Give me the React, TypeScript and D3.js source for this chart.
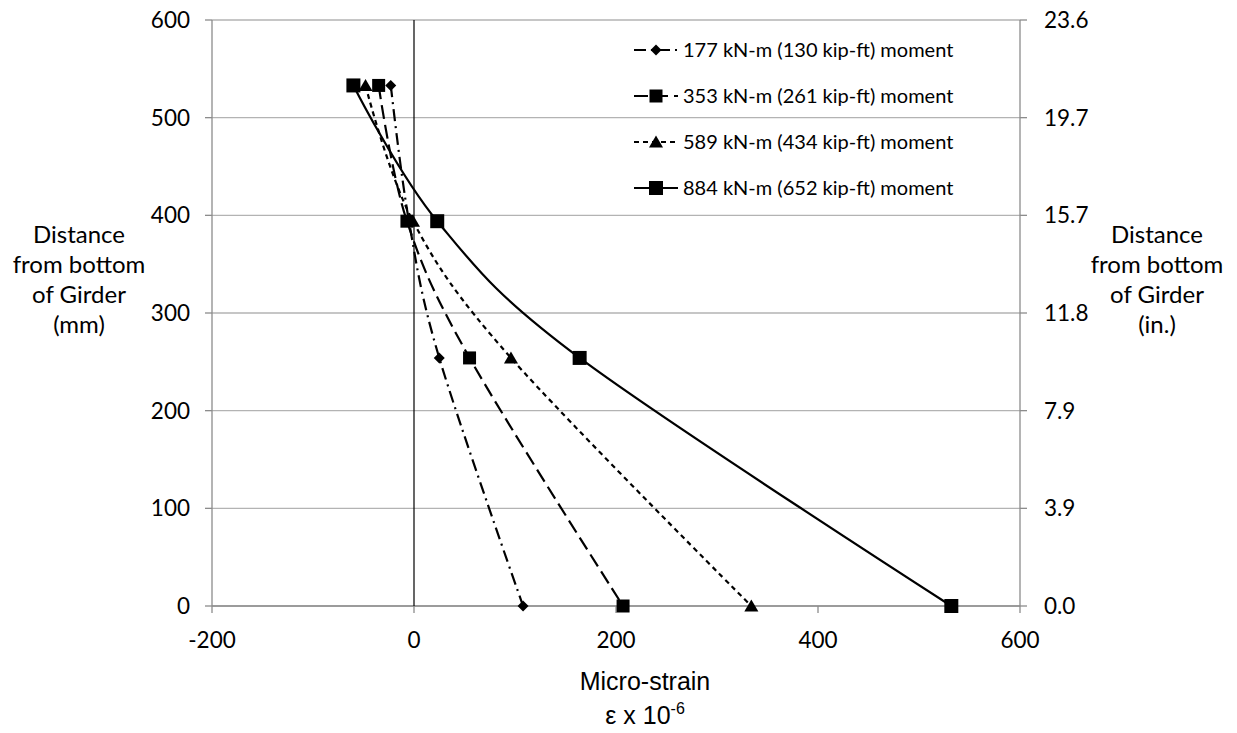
import React from "react";
import * as d3 from "d3";

// Gauge heights above the girder soffit (mm)
const depthsMm = [533, 394, 254, 0];

// Measured strains (micro-strain) at each gauge height, per load step
const strain177 = [-23, -5, 25, 108];
const strain353 = [-35, -7, 55, 207];
const strain589 = [-48, -1, 96, 334];
const strain884 = [-60, 23, 164, 532];

const seriesLabels = [
  "177 kN-m (130 kip-ft) moment",
  "353 kN-m (261 kip-ft) moment",
  "589 kN-m (434 kip-ft) moment",
  "884 kN-m (652 kip-ft) moment",
];

const xTicks = [-200, 0, 200, 400, 600];
const yTicksMm = [0, 100, 200, 300, 400, 500, 600];

type Marker = "diamond" | "square" | "triangle";

const series: { label: string; values: number[]; dash: string; marker: Marker; msize: number }[] = [
  { label: seriesLabels[0], values: strain177, dash: "12 5 2 5", marker: "diamond", msize: 5.5 },
  { label: seriesLabels[1], values: strain353, dash: "14 6", marker: "square", msize: 6.5 },
  { label: seriesLabels[2], values: strain589, dash: "5 4", marker: "triangle", msize: 6.5 },
  { label: seriesLabels[3], values: strain884, dash: "none", marker: "square", msize: 7 },
];

const W = 1237;
const H = 733;
const M = { left: 212, right: 1020, top: 20, bottom: 606 };

const FONT = "Lato, 'Noto Sans', sans-serif";
const ARIAL = "'Liberation Sans', Arial, sans-serif";

function markerPath(kind: Marker, r: number): string {
  if (kind === "diamond") return `M0,${-r}L${r},0L0,${r}L${-r},0Z`;
  if (kind === "triangle") return `M0,${-r}L${r * 1.08},${r * 0.85}L${-r * 1.08},${r * 0.85}Z`;
  return `M${-r},${-r}H${r}V${r}H${-r}Z`;
}

export default function App() {
  const x = d3.scaleLinear().domain([-200, 600]).range([M.left, M.right]);
  const y = d3.scaleLinear().domain([0, 600]).range([M.bottom, M.top]);
  const yIn = d3.scaleLinear().domain([0, 600 / 25.4]).range([M.bottom, M.top]);
  const fmtIn = d3.format(".1f");

  const line = d3
    .line<[number, number]>()
    .x((d) => x(d[0]))
    .y((d) => y(d[1]))
    .curve(d3.curveCardinal.tension(0));

  const legendY = [50, 96, 142, 188];
  const axisGrey = "#8c8c8c";

  return (
    <div style={{ position: "absolute", left: 0, top: 0 }}>
      <svg width={W} height={H} style={{ display: "block", background: "#fff" }}>
        {/* horizontal gridlines */}
        {yTicksMm.map((t) => (
          <line key={"g" + t} x1={M.left} x2={M.right} y1={y(t)} y2={y(t)} stroke="#b3b3b3" strokeWidth={1.3} />
        ))}
        {/* left axis */}
        <line x1={M.left} x2={M.left} y1={M.top} y2={M.bottom} stroke={axisGrey} strokeWidth={1.3} />
        {yTicksMm.map((t) => (
          <g key={"yl" + t}>
            <line x1={M.left - 7} x2={M.left} y1={y(t)} y2={y(t)} stroke={axisGrey} strokeWidth={1.3} />
            <text x={M.left - 22} y={y(t)} dy="0.36em" textAnchor="end" fontFamily={FONT} fontSize={22.5} fill="#000">
              {t}
            </text>
          </g>
        ))}
        {/* right axis in inches */}
        <line x1={M.right} x2={M.right} y1={M.top} y2={M.bottom} stroke={axisGrey} strokeWidth={1.3} />
        {yTicksMm.map((t) => {
          const v = t / 25.4;
          return (
            <g key={"yr" + t}>
              <line x1={M.right} x2={M.right + 7} y1={yIn(v)} y2={yIn(v)} stroke={axisGrey} strokeWidth={1.3} />
              <text x={M.right + 24} y={yIn(v)} dy="0.36em" textAnchor="start" fontFamily={FONT} fontSize={22.5} fill="#000">
                {fmtIn(v)}
              </text>
            </g>
          );
        })}
        {/* bottom axis */}
        <line x1={M.left} x2={M.right} y1={y(0)} y2={y(0)} stroke={axisGrey} strokeWidth={1.3} />
        {xTicks.map((t) => (
          <g key={"x" + t}>
            <line x1={x(t)} x2={x(t)} y1={y(0)} y2={y(0) + 7} stroke={axisGrey} strokeWidth={1.3} />
            <text x={x(t)} y={y(0) + 42} textAnchor="middle" fontFamily={FONT} fontSize={22.5} fill="#000">
              {t}
            </text>
          </g>
        ))}
        {/* zero-strain reference line */}
        <line x1={x(0)} x2={x(0)} y1={M.top} y2={M.bottom} stroke="#000" strokeWidth={1.2} />

        {/* strain profiles */}
        {series.map((s) => {
          const pts = s.values.map((v, i) => [v, depthsMm[i]] as [number, number]);
          return (
            <g key={s.label}>
              <path d={line(pts) as string} fill="none" stroke="#000" strokeWidth={2.2} strokeDasharray={s.dash} />
              {pts.map((p, i) => (
                <path key={i} d={markerPath(s.marker, s.msize)} transform={`translate(${x(p[0])},${y(p[1])})`} fill="#000" />
              ))}
            </g>
          );
        })}

        {/* legend */}
        {series.map((s, i) => (
          <g key={"lg" + i} transform={`translate(0,${legendY[i]})`}>
            <line x1={634} x2={678} y1={0} y2={0} stroke="#000" strokeWidth={2.2} strokeDasharray={s.dash} />
            <path d={markerPath(s.marker, s.msize)} transform="translate(656,0)" fill="#000" />
            <text x={683} y={0} dy="0.36em" fontFamily={FONT} fontSize={20} fill="#000">
              {s.label}
            </text>
          </g>
        ))}

        {/* axis titles */}
        <text textAnchor="middle" fontFamily={FONT} fontSize={24} fill="#000">
          {["Distance", "from bottom", "of Girder", "(mm)"].map((t, i) => (
            <tspan key={i} x={79} y={243 + i * 30}>{t}</tspan>
          ))}
        </text>
        <text textAnchor="middle" fontFamily={FONT} fontSize={24} fill="#000">
          {["Distance", "from bottom", "of Girder", "(in.)"].map((t, i) => (
            <tspan key={i} x={1157} y={243 + i * 30}>{t}</tspan>
          ))}
        </text>
        <text x={645} y={690} textAnchor="middle" fontFamily={ARIAL} fontSize={25} fill="#000">
          Micro-strain
        </text>
        <text x={645} y={724} textAnchor="middle" fontFamily={ARIAL} fontSize={25} fill="#000">
          ε x 10<tspan dy={-10} fontSize={16}>-6</tspan>
        </text>
      </svg>
    </div>
  );
}
